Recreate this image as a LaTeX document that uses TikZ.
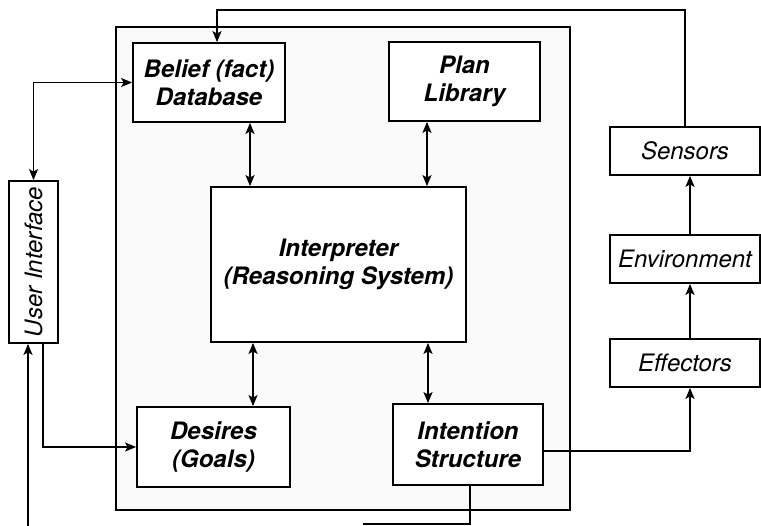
\documentclass[tikz,border=0pt]{standalone}
\usepackage{fontspec}
\setmainfont{TeX Gyre Heros}
\usetikzlibrary{arrows.meta}
\begin{document}
\begin{tikzpicture}[x=1pt,y=-1pt,
  box/.style={draw, line width=1.8pt, fill=white, inner sep=0pt, align=center},
  inbox/.style={box, font=\fontsize{24}{28}\selectfont\bfseries\itshape},
  outbox/.style={box, font=\fontsize{24}{28}\selectfont\itshape},
  conn/.style={line width=1.6pt},
  tip/.tip={Stealth[length=11pt,width=9pt,inset=2.5pt]},
  arr/.style={conn,-tip},
  arrb/.style={conn,tip-tip}]
\useasboundingbox (0,0) rectangle (761,526);
% main agent box
\draw[line width=1.8pt, fill=black!2] (116,27) rectangle (570,510);
% nodes
\node[inbox, minimum width=152pt, minimum height=79pt] (bel) at (209,82.5) {Belief (fact)\\Database};
\node[inbox, minimum width=151pt, minimum height=79pt] (plan) at (464.5,81.5) {Plan\\Library};
\node[inbox, minimum width=255pt, minimum height=155pt] (interp) at (338.5,264.5) {Interpreter\\(Reasoning System)};
\node[inbox, minimum width=153pt, minimum height=80pt] (des) at (213.5,447) {Desires\\(Goals)};
\node[inbox, minimum width=150pt, minimum height=81pt] (int) at (468,444.5) {Intention\\Structure};
\node[outbox, minimum width=150pt, minimum height=48pt] (sens) at (685,151) {Sensors};
\node[outbox, minimum width=150pt, minimum height=48pt] (env) at (685,259) {Environment};
\node[outbox, minimum width=150pt, minimum height=48pt] (eff) at (685,363) {Effectors};
\node[outbox, rotate=90, minimum width=162pt, minimum height=49pt] (ui) at (33.5,262) {User Interface};
% helper coordinates
\coordinate (cTop) at (217,10);
\coordinate (c1) at (250,0);
\coordinate (c2) at (427,0);
\coordinate (c3) at (253,0);
\coordinate (c4) at (428,0);
\coordinate (c5) at (43,0);
\coordinate (c6) at (28,0);
\coordinate (bIn) at (28,526);
\coordinate (c7) at (0,451);
\coordinate (c8) at (690,0);
\coordinate (c9) at (470,0);
\coordinate (bOut) at (470,524);
\coordinate (bEnd) at (363,524);
% connectors
\draw[arr] (sens.north) |- (cTop) -- (cTop |- bel.north);
\draw[arrb] (bel.west) -| (ui.east);
\draw[arrb] (c1 |- bel.south) -- (c1 |- interp.north);
\draw[arrb] (c2 |- plan.south) -- (c2 |- interp.north);
\draw[arrb] (c3 |- interp.south) -- (c3 |- des.north);
\draw[arrb] (c4 |- interp.south) -- (c4 |- int.north);
\draw[arr] (c5 |- ui.west) |- (des.west);
\draw[arr] (bIn) -- (c6 |- ui.west);
\draw[arr] (c7 -| int.east) -| (c8 |- eff.south);
\draw[arr] (c8 |- eff.north) -- (c8 |- env.south);
\draw[arr] (c8 |- env.north) -- (c8 |- sens.south);
\draw[conn] (c9 |- int.south) -- (bOut) -- (bEnd);
\end{tikzpicture}
\end{document}
